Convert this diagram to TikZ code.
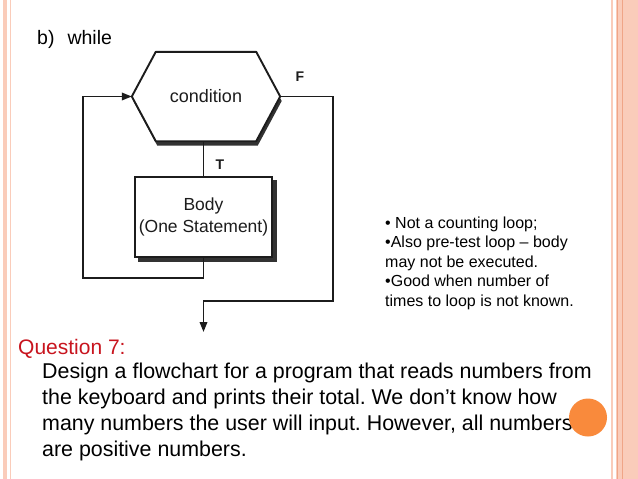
\documentclass[tikz,border=0pt]{standalone}
\usepackage{fontspec}
\setmainfont{Liberation Sans}
\usetikzlibrary{arrows.meta,backgrounds}
\definecolor{bordl}{RGB}{250,204,186}
\definecolor{bordd}{RGB}{240,165,135}
\definecolor{qred}{RGB}{200,20,30}
\definecolor{dotorange}{RGB}{249,138,60}
\definecolor{ink}{RGB}{28,28,28}
\definecolor{shadowc}{RGB}{50,50,50}
\tikzset{
  flow/.style={draw=ink, line width=1.9pt},
  arr/.style={flow, -{Triangle[length=10pt,width=7.5pt]}},
  lbl/.style={font=\fontsize{14}{16}\selectfont\bfseries, text=ink, inner sep=0pt},
  txt/.style={inner sep=0pt, align=left}
}
\begin{document}
\frenchspacing
\begin{tikzpicture}[x=1pt,y=1pt]
\useasboundingbox (0,0) rectangle (638,-479);
% nodes
\node[minimum width=148pt, minimum height=89pt, inner sep=0pt,
      font=\fontsize{18}{20}\selectfont, text=ink] (cond) at (206,-96.5) {condition};
\node[flow, fill=white, minimum width=137pt, minimum height=80pt, inner sep=0pt,
      align=center, font=\fontsize{17.5}{22}\selectfont, text=ink] (body) at (203.5,-217) {Body\\(One Statement)};
% hexagon outline
\draw[flow, line join=round] (cond.west) -- ([xshift=24pt]cond.north west) -- ([xshift=-24pt]cond.north east)
  -- (cond.east) -- ([xshift=-24pt]cond.south east) -- ([xshift=24pt]cond.south west) -- cycle;
\begin{scope}[on background layer]
  \fill[white] (0,0) rectangle (638,-479);
  \fill[bordl] (3,0) rectangle (7,-479);
  \draw[bordl, line width=0.8pt] (10.5,0) -- (10.5,-479);
  \draw[bordl, line width=1.2pt] (612,0) -- (612,-479);
  \fill[bordl] (616,0) rectangle (638,-479);
  \draw[bordd, line width=1pt] (617,0) -- (617,-479);
  \draw[bordd, line width=1pt] (622.5,0) -- (622.5,-479);
  % hexagon shadow
  \fill[shadowc] ([shift={(1.5,-4.5)}]cond.west) -- ([shift={(25.5,-4.5)}]cond.north west)
    -- ([shift={(-22.5,-4.5)}]cond.north east) -- ([shift={(1.5,-4.5)}]cond.east)
    -- ([shift={(-22.5,-4.5)}]cond.south east) -- ([shift={(25.5,-4.5)}]cond.south west) -- cycle;
  \fill[white] (cond.west) -- ([xshift=24pt]cond.north west) -- ([xshift=-24pt]cond.north east)
      -- (cond.east) -- ([xshift=-24pt]cond.south east) -- ([xshift=24pt]cond.south west) -- cycle;
  % box shadow
  \fill[shadowc] ([shift={(4,-4.5)}]body.south west) rectangle ([shift={(4.5,-4)}]body.north east);
\end{scope}
% connectors
\coordinate (fcorner) at (333,-301);
\coordinate (exit) at (203.5,-332);
\coordinate (lcorner) at (83,-278);
\draw[flow] (body.north) -- (body.north |- cond.south);
\draw[arr] (cond.east) -| (fcorner) -- (fcorner -| exit) -- (exit);
\draw[arr] (body.south) |- (lcorner) |- (cond.west);
\node[lbl] (F) at (300,-77) {F};
\node[lbl] (T) at (220,-165) {T};
% texts
\node[txt, anchor=base west, font=\fontsize{19.5}{22}\selectfont] (title) at (37,-45) {b)\hspace{13pt}while};
\node[txt, anchor=north west, font=\fontsize{16}{19.5}\selectfont] (notes) at (385,-216.5)
  {• Not a counting loop;\\•Also pre-test loop – body\\may not be executed.\\•Good when number of\\times to loop is not known.};
\node[txt, anchor=base west, font=\fontsize{21}{26}\selectfont, text=qred] (q7) at (18,-354) {Question 7:};
\node[txt, anchor=north west, font=\fontsize{21.4}{26}\selectfont] (qtext) at (42,-363)
  {Design a flowchart for a program that reads numbers from\\the keyboard and prints their total. We don’t know how\\many numbers the user will input. However, all numbers\\are positive numbers.};
\fill[dotorange] (588,-417.5) circle (19);
\end{tikzpicture}
\end{document}
